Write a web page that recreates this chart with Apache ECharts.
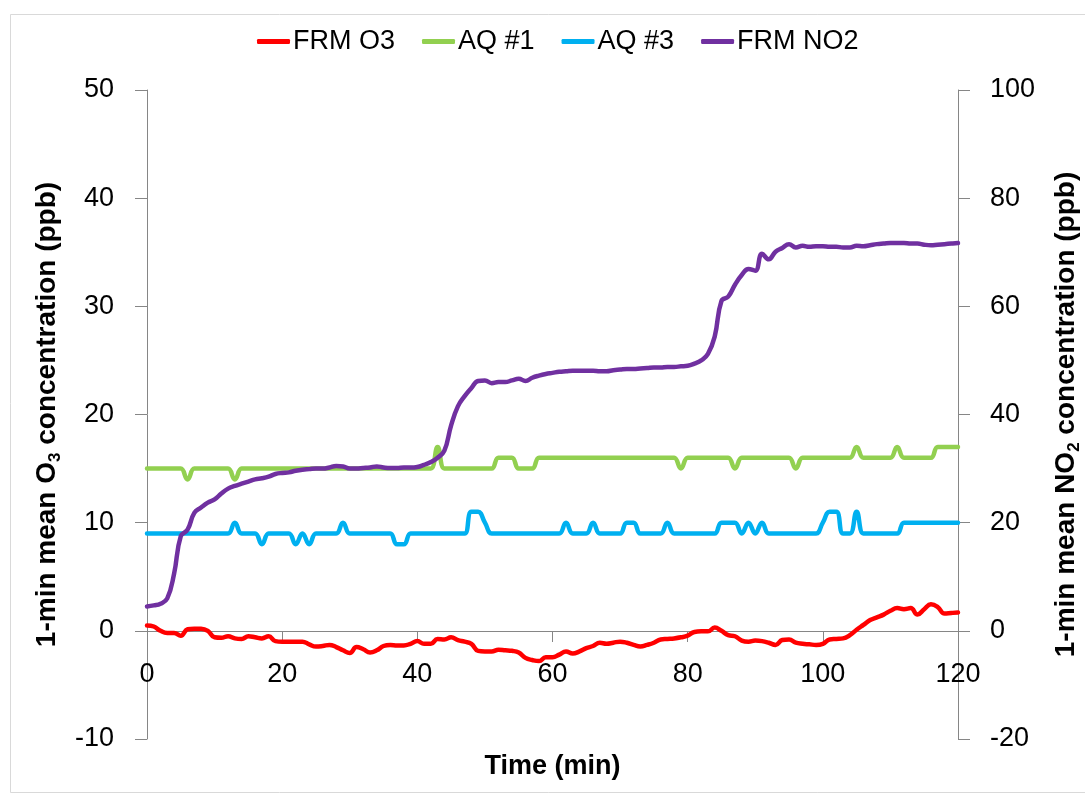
<!DOCTYPE html>
<html>
<head>
<meta charset="utf-8">
<script src="https://cdn.jsdelivr.net/npm/echarts@6/dist/echarts.min.js"></script>
<style>html,body{margin:0;padding:0;background:#fff;}#c{width:1085px;height:798px;}</style>
</head>
<body>
<div id="c"></div>
<script>
// time in minutes, 0..120
const minutes = Array.from({length: 121}, (_, i) => i);
const seriesNames = ['FRM O3', 'AQ #1', 'AQ #3', 'FRM NO2'];
const xTicks = [0, 20, 40, 60, 80, 100, 120];

const frmO3 = [
  0.5, 0.4, 0.0, -0.2, -0.2, -0.45, 0.15, 0.2, 0.2, 0.0,
  -0.6, -0.65, -0.5, -0.7, -0.75, -0.5, -0.6, -0.7, -0.5, -0.95,
  -1.0, -1.0, -1.0, -1.0, -1.25, -1.45, -1.4, -1.3, -1.5, -1.8,
  -2.05, -1.5, -1.7, -2.0, -1.8, -1.4, -1.3, -1.35, -1.35, -1.2,
  -0.95, -1.2, -1.2, -0.75, -0.8, -0.6, -0.85, -1.0, -1.2, -1.85,
  -1.9, -1.9, -1.75, -1.8, -1.85, -2.0, -2.5, -2.7, -2.8, -2.45,
  -2.45, -2.2, -1.9, -2.1, -1.9, -1.6, -1.4, -1.1, -1.2, -1.1,
  -1.0, -1.1, -1.3, -1.45, -1.3, -1.1, -0.8, -0.75, -0.7, -0.6,
  -0.45, -0.1, -0.05, -0.05, 0.3, 0.0, -0.4, -0.5, -0.9, -1.0,
  -0.9, -0.95, -1.1, -1.3, -0.85, -0.8, -1.1, -1.2, -1.25, -1.3,
  -1.2, -0.8, -0.75, -0.7, -0.4, 0.1, 0.55, 1.0, 1.25, 1.5,
  1.85, 2.1, 2.0, 2.1, 1.5, 2.0, 2.45, 2.2, 1.6, 1.65,
  1.7
];

const aq1 = [
  15, 15, 15, 15, 15, 15, 14, 15, 15, 15,
  15, 15, 15, 14, 15, 15, 15, 15, 15, 15,
  15, 15, 15, 15, 15, 15, 15, 15, 15, 15,
  15, 15, 15, 15, 15, 15, 15, 15, 15, 15,
  15, 15, 15, 17, 15, 15, 15, 15, 15, 15,
  15, 15, 16, 16, 16, 15, 15, 15, 16, 16,
  16, 16, 16, 16, 16, 16, 16, 16, 16, 16,
  16, 16, 16, 16, 16, 16, 16, 16, 16, 15,
  16, 16, 16, 16, 16, 16, 16, 15, 16, 16,
  16, 16, 16, 16, 16, 16, 15, 16, 16, 16,
  16, 16, 16, 16, 16, 17, 16, 16, 16, 16,
  16, 17, 16, 16, 16, 16, 16, 17, 17, 17,
  17
];

const aq3 = [
  9, 9, 9, 9, 9, 9, 9, 9, 9, 9,
  9, 9, 9, 10, 9, 9, 9, 8, 9, 9,
  9, 9, 8, 9, 8, 9, 9, 9, 9, 10,
  9, 9, 9, 9, 9, 9, 9, 8, 8, 9,
  9, 9, 9, 9, 9, 9, 9, 9, 11, 11,
  10, 9, 9, 9, 9, 9, 9, 9, 9, 9,
  9, 9, 10, 9, 9, 9, 10, 9, 9, 9,
  9, 10, 10, 9, 9, 9, 9, 10, 9, 9,
  9, 9, 9, 9, 9, 10, 10, 10, 9, 10,
  9, 10, 9, 9, 9, 9, 9, 9, 9, 9,
  10, 11, 11, 9, 9, 11, 9, 9, 9, 9,
  9, 9, 10, 10, 10, 10, 10, 10, 10, 10,
  10
];

const frmNO2 = [
  4.5, 4.7, 5.0, 6.0, 10.5, 17.5, 18.7, 21.8, 22.8, 23.7,
  24.3, 25.4, 26.3, 26.8, 27.2, 27.6, 28.0, 28.2, 28.5, 29.0,
  29.2, 29.3, 29.6, 29.8, 29.9, 30.0, 30.0, 30.2, 30.5, 30.4,
  30.0, 30.0, 30.1, 30.2, 30.4, 30.2, 30.1, 30.1, 30.2, 30.2,
  30.3, 30.7, 31.2, 32.0, 33.3, 38.0, 41.5, 43.4, 44.9, 46.2,
  46.3, 45.8, 46.0, 46.0, 46.3, 46.6, 46.2, 46.8, 47.2, 47.5,
  47.7, 47.9, 48.0, 48.1, 48.1, 48.1, 48.1, 48.0, 48.0, 48.2,
  48.3, 48.4, 48.4, 48.5, 48.6, 48.7, 48.7, 48.8, 48.8, 48.9,
  49.0, 49.4, 50.0, 51.2, 54.4, 61.0, 61.8, 64.0, 65.8, 66.9,
  66.6, 69.7, 68.7, 70.1, 70.8, 71.5, 70.9, 71.2, 71.0, 71.1,
  71.1, 71.0, 71.0, 70.9, 70.9, 71.2, 71.1, 71.3, 71.5, 71.6,
  71.7, 71.7, 71.7, 71.6, 71.6, 71.4, 71.3, 71.4, 71.5, 71.6,
  71.7
];

const colors = ['#FF0000', '#92D050', '#00B0F0', '#7030A0'];
const FONT = 'Liberation Sans';
const axisGray = '#868686';

function pairs(vals) { return minutes.map((t, i) => [t, vals[i]]); }

const chart = echarts.init(document.getElementById('c'), null, {renderer: 'canvas'});
const lineSeries = (name, vals, color, yIdx) => ({
  name, type: 'line', yAxisIndex: yIdx, data: pairs(vals),
  smooth: 0.45, showSymbol: false, symbol: 'none',
  lineStyle: {color, width: 4.5, cap: 'round', join: 'round'},
  itemStyle: {color}, z: 2 + yIdx
});

// plot area: 147..958 x 90..739 ; left y = 0 sits 108px above the bottom edge
const GRID = {left: 147, right: 127, top: 90, bottom: 59};
const zeroOffset = -108;

chart.setOption({
  animation: false,
  backgroundColor: '#ffffff',
  graphic: [{
    type: 'rect', shape: {x: 10.5, y: 14.5, width: 1090, height: 778},
    style: {fill: 'none', stroke: '#D9D9D9', lineWidth: 1}, z: -10, silent: true
  }],
  legend: {
    left: 252, top: 23,
    itemWidth: 33, itemHeight: 5, itemGap: 27,
    icon: 'roundRect',
    textStyle: {fontFamily: FONT, fontSize: 27, color: '#000', padding: [0, 0, 0, -2]},
    data: seriesNames.map((n, i) => ({name: n, itemStyle: {color: colors[i]}}))
  },
  grid: Object.assign({containLabel: false, outerBoundsMode: 'none'}, GRID),
  xAxis: {
    type: 'value', min: 0, max: 120, interval: 20,
    position: 'bottom', offset: zeroOffset,
    name: 'Time (min)', nameLocation: 'middle', nameGap: 122,
    nameTextStyle: {fontFamily: FONT, fontSize: 27, fontWeight: 'bold', color: '#000'},
    axisLine: {onZero: false, lineStyle: {color: axisGray, width: 1}},
    axisTick: {show: true, inside: false, length: 11, lineStyle: {color: axisGray}},
    axisLabel: {fontFamily: FONT, fontSize: 27, color: '#000', margin: 30,
      customValues: xTicks},
    splitLine: {show: false}
  },
  yAxis: [{
    type: 'value', min: -10, max: 50, interval: 10, position: 'left',
    name: '1-min mean O{sub|3} concentration (ppb)', nameLocation: 'middle', nameGap: 79,
    nameTextStyle: {fontFamily: FONT, fontSize: 28, fontWeight: 'bold', color: '#000', lineHeight: 34,
      rich: {sub: {fontFamily: FONT, fontSize: 17, fontWeight: 'bold', color: '#000', verticalAlign: 'bottom', lineHeight: 20}}},
    axisLine: {show: true, onZero: false, lineStyle: {color: axisGray, width: 1}},
    axisTick: {show: true, inside: false, length: 12, lineStyle: {color: axisGray}},
    axisLabel: {fontFamily: FONT, fontSize: 27, color: '#000', margin: 33},
    splitLine: {show: false}
  }, {
    type: 'value', min: -20, max: 100, interval: 20, position: 'right',
    name: '1-min mean NO{sub|2} concentration (ppb)', nameLocation: 'middle', nameGap: 91, nameRotate: 90,
    nameTextStyle: {fontFamily: FONT, fontSize: 28, fontWeight: 'bold', color: '#000', lineHeight: 34,
      rich: {sub: {fontFamily: FONT, fontSize: 17, fontWeight: 'bold', color: '#000', verticalAlign: 'bottom', lineHeight: 20}}},
    axisLine: {show: true, onZero: false, lineStyle: {color: axisGray, width: 1}},
    axisTick: {show: true, inside: false, length: 12, lineStyle: {color: axisGray}},
    axisLabel: {fontFamily: FONT, fontSize: 27, color: '#000', margin: 32},
    splitLine: {show: false}
  }],
  series: [
    lineSeries(seriesNames[0], frmO3, colors[0], 0),
    lineSeries(seriesNames[1], aq1, colors[1], 0),
    lineSeries(seriesNames[2], aq3, colors[2], 0),
    lineSeries(seriesNames[3], frmNO2, colors[3], 1)
  ]
});
</script>
</body>
</html>
